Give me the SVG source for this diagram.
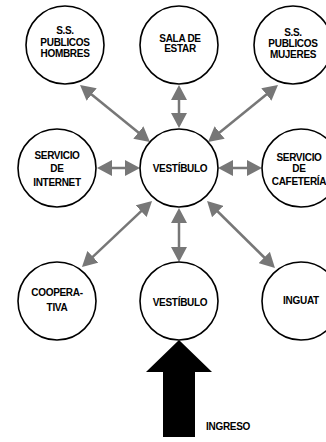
<svg xmlns="http://www.w3.org/2000/svg" width="326" height="442" viewBox="0 0 326 442">
<style>
.n{fill:#fff;stroke:#000;stroke-width:1.6}
.t{font-family:"Liberation Sans",Arial,sans-serif;font-weight:bold;font-size:10px;letter-spacing:-0.3px;text-anchor:middle;fill:#000}
.c{stroke:#777;stroke-width:2.5;fill:none;marker-start:url(#ah);marker-end:url(#ah)}
</style>
<defs>
<marker id="ah" viewBox="0 0 15 16" refX="10" refY="8" markerWidth="15" markerHeight="16" markerUnits="userSpaceOnUse" orient="auto-start-reverse">
<path d="M0,0 L15,8 L0,16 z" fill="#777"/>
</marker>
</defs>
<rect width="326" height="442" fill="#fff"/>
<g id="connectors">
<line class="c" x1="179" y1="123" x2="179" y2="90"/>
<line class="c" x1="146.1" y1="138.8" x2="83.9" y2="88.2"/>
<line class="c" x1="211.9" y1="138.8" x2="274.1" y2="88.2"/>
<line class="c" x1="135" y1="168" x2="102" y2="168"/>
<line class="c" x1="223" y1="168" x2="257" y2="168"/>
<line class="c" x1="148.4" y1="204.4" x2="85.6" y2="263.6"/>
<line class="c" x1="210.6" y1="204.5" x2="271.4" y2="264.5"/>
<line class="c" x1="179" y1="213" x2="179" y2="257"/>
</g>
<g id="n-hombres"><circle class="n" cx="65" cy="45" r="39"/>
<text class="t" x="65" y="33.5">S.S.</text><text class="t" x="65" y="45.5">PUBLICOS</text><text class="t" x="65" y="56.5">HOMBRES</text></g>
<g id="n-sala"><circle class="n" cx="179" cy="45" r="39"/>
<text class="t" x="180" y="41.5">SALA DE</text><text class="t" x="180" y="52">ESTAR</text></g>
<g id="n-mujeres"><circle class="n" cx="293" cy="45" r="39"/>
<text class="t" x="293" y="35.5">S.S.</text><text class="t" x="293" y="46.5">PUBLICOS</text><text class="t" x="293" y="58">MUJERES</text></g>
<g id="n-internet"><circle class="n" cx="57" cy="168" r="39"/>
<text class="t" x="57" y="158.5">SERVICIO</text><text class="t" x="57" y="171.5">DE</text><text class="t" x="57" y="185.5">INTERNET</text></g>
<g id="n-vestibulo"><circle class="n" cx="179" cy="168" r="39"/>
<text class="t" x="180" y="171.5">VESTÍBULO</text></g>
<g id="n-cafeteria"><circle class="n" cx="301" cy="168" r="39"/>
<text class="t" x="299" y="160.5">SERVICIO</text><text class="t" x="299" y="171.5">DE</text><text class="t" x="299" y="184.5">CAFETERÍA</text></g>
<g id="n-cooperativa"><circle class="n" cx="57" cy="301" r="39"/>
<text class="t" x="57" y="295.5">COOPERA-</text><text class="t" x="57" y="310.5">TIVA</text></g>
<g id="n-vestibulo2"><circle class="n" cx="179" cy="301" r="39"/>
<text class="t" x="180" y="305.5">VESTÍBULO</text></g>
<g id="n-inguat"><circle class="n" cx="301" cy="301" r="39"/>
<text class="t" x="301" y="303.5">INGUAT</text></g>
<g id="ingreso">
<polygon points="179,340 212,372 195,372 195,437 163,437 163,372 146,372" fill="#000"/>
<text class="t" x="206" y="429.5" style="text-anchor:start">INGRESO</text>
</g>
</svg>
